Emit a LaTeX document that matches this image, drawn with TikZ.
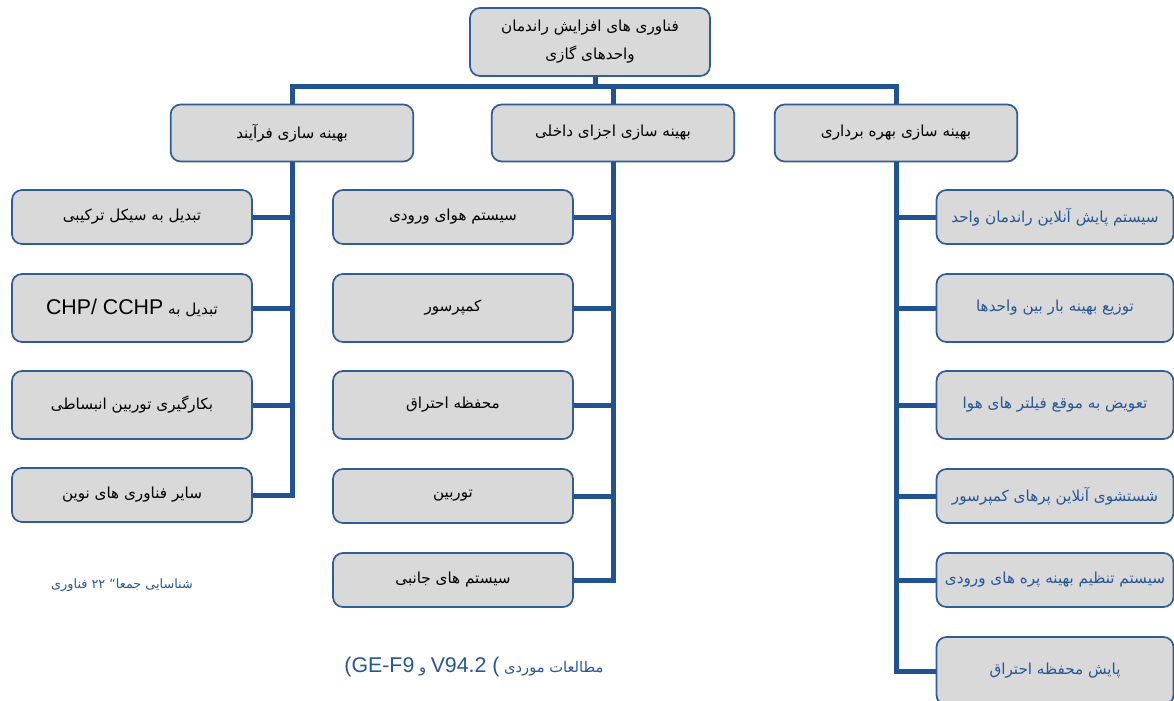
\documentclass[tikz,border=0pt]{standalone}
\usepackage{fontspec}
\setmainfont{Liberation Sans}
\newfontfamily\fa[Script=Arabic]{DejaVu Sans}
\newfontfamily\latn{Liberation Sans}
\TeXXeTstate=1
\usetikzlibrary{positioning}
\definecolor{busblue}{RGB}{33,82,145}
\definecolor{edgeblue}{RGB}{48,92,152}
\definecolor{boxgray}{RGB}{217,217,217}
\definecolor{noteblue}{RGB}{38,86,150}

\begin{document}
\begin{tikzpicture}[x=0.75pt,y=-0.75pt,every text node part/.style={align=center},
  box/.style={draw=edgeblue,line width=1.3pt,fill=boxgray,rounded corners=7.5pt,inner sep=0pt,
    minimum width=180pt,minimum height=40.5pt,font=\fa\fontsize{11.4}{21}\selectfont},
  tallbox/.style={box,minimum height=51pt},
  headbox/.style={box,minimum width=182pt,minimum height=42.75pt},
  opbox/.style={box,text=noteblue,minimum width=177.75pt},
  bus/.style={busblue,line width=3.75pt},
  note/.style={text=noteblue,font=\fa\fontsize{9.6}{14}\selectfont}]
	\useasboundingbox (0,0) rectangle (1174,700);
	\node[tallbox] (tech) at (590,42) {\beginR فناوری های افزایش راندمان\endR\\\beginR واحدهای گازی\endR};
	\node[headbox] (proc) at (292,133) {\beginR بهینه سازی فرآیند\endR};
	\node[headbox] (parts) at (613,133) {\beginR بهینه سازی اجزای داخلی\endR};
	\node[headbox] (oper) at (896,133) {\beginR بهینه سازی بهره برداری\endR};
	\node[box] (p1) at (132,217) {\beginR تبدیل به سیکل ترکیبی\endR};
	\node[tallbox] (p2) at (132,308) {\beginR تبدیل به \beginL{\latn\fontsize{16}{19}\selectfont CHP/ CCHP}\endL\endR};
	\node[tallbox] (p3) at (132,405) {\beginR بکارگیری توربین انبساطی\endR};
	\node[box] (p4) at (132,495) {\beginR سایر فناوری های نوین\endR};
	\node[box] (c1) at (453,217) {\beginR سیستم هوای ورودی\endR};
	\node[tallbox] (c2) at (453,308) {\beginR کمپرسور\endR};
	\node[tallbox] (c3) at (453,405) {\beginR محفظه احتراق\endR};
	\node[box] (c4) at (453,496) {\beginR توربین\endR};
	\node[box] (c5) at (453,580) {\beginR سیستم های جانبی\endR};
	\node[opbox] (o1) at (1055,217) {\beginR سیستم پایش آنلاین راندمان واحد\endR};
	\node[opbox,minimum height=51pt] (o2) at (1055,308) {\beginR توزیع بهینه بار بین واحدها\endR};
	\node[opbox,minimum height=51pt] (o3) at (1055,405) {\beginR تعویض به موقع فیلتر های هوا\endR};
	\node[opbox] (o4) at (1055,496) {\beginR شستشوی آنلاین پرهای کمپرسور\endR};
	\node[opbox] (o5) at (1055,580) {\beginR سیستم تنظیم بهینه پره های ورودی\endR};
	\node[opbox,minimum height=51pt] (o6) at (1055,671) {\beginR پایش محفظه احتراق\endR};
	\node[note] (count) at (122,585) {\beginR شناسایی جمعا“ ۲۲ فناوری\endR};
	\node[note,font=\fa\fontsize{11}{14}\selectfont] (cases) at (474,667) {{\XeTeXinterwordspaceshaping=2 \latn\fontsize{16}{19}\selectfont (GE-F9} و {\XeTeXinterwordspaceshaping=2 \latn\fontsize{16}{19}\selectfont V94.2 (} \beginR مطالعات موردی\endR};
	\draw[bus] ([xshift=3.75pt]tech.south) -- ++(0,10) coordinate (hub);
	\draw[bus] (proc.north) |- (hub) -| (oper.north);
	\draw[bus] (parts.north) -- (parts.north |- hub);
	\draw[bus] (proc.south) |- (p4.east);
	\foreach \n in {p1,p2,p3} \draw[bus] (\n.east) -- (proc.south |- \n.east);
	\draw[bus] (parts.south) |- (c5.east);
	\foreach \n in {c1,c2,c3,c4} \draw[bus] (\n.east) -- (parts.south |- \n.east);
	\draw[bus] (oper.south) |- (o6.west);
	\foreach \n in {o1,o2,o3,o4,o5} \draw[bus] (\n.west) -- (oper.south |- \n.west);
\end{tikzpicture}
\end{document}
